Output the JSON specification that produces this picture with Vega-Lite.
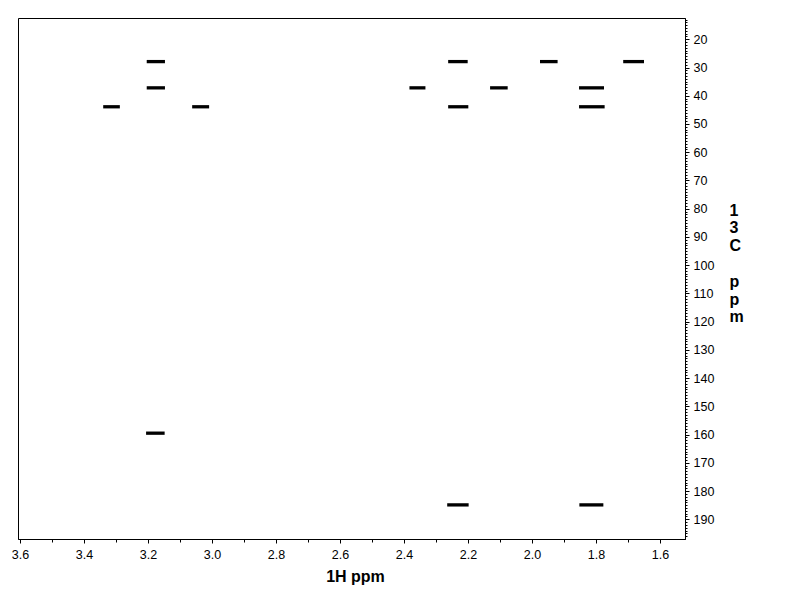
{
  "$schema": "https://vega.github.io/schema/vega-lite/v6.json",
  "width": 667,
  "height": 521,
  "autosize": {"type": "none"},
  "padding": {"left": 18, "top": 18, "right": 107, "bottom": 73},
  "background": "white",
  "config": {
    "view": {"stroke": "black", "strokeWidth": 1},
    "font": "Liberation Sans"
  },
  "data": {
    "values": [
      {"h1": 3.204, "h2": 3.147, "c": 27.9},
      {"h1": 3.204, "h2": 3.147, "c": 37.2},
      {"h1": 3.340, "h2": 3.288, "c": 43.9},
      {"h1": 3.062, "h2": 3.009, "c": 43.9},
      {"h1": 2.262, "h2": 2.201, "c": 27.9},
      {"h1": 1.975, "h2": 1.920, "c": 27.9},
      {"h1": 1.715, "h2": 1.650, "c": 27.9},
      {"h1": 2.383, "h2": 2.333, "c": 37.2},
      {"h1": 2.131, "h2": 2.076, "c": 37.2},
      {"h1": 1.853, "h2": 1.775, "c": 37.2},
      {"h1": 2.262, "h2": 2.199, "c": 43.9},
      {"h1": 1.853, "h2": 1.773, "c": 43.9},
      {"h1": 3.206, "h2": 3.148, "c": 159.5},
      {"h1": 2.265, "h2": 2.198, "c": 184.9},
      {"h1": 1.852, "h2": 1.777, "c": 184.9}
    ]
  },
  "mark": {"type": "rule", "color": "black", "strokeWidth": 3.3},
  "encoding": {
    "x": {
      "field": "h1",
      "type": "quantitative",
      "scale": {"domain": [3.60625, 1.52187], "nice": false, "zero": false},
      "axis": {
        "orient": "bottom",
        "values": [3.6, 3.5, 3.4, 3.3, 3.2, 3.1, 3.0, 2.9, 2.8, 2.7, 2.6, 2.5, 2.4, 2.3, 2.2, 2.1, 2.0, 1.9, 1.8, 1.7, 1.6],
        "format": ".1f",
        "labelExpr": "round(datum.value*10) % 2 == 0 ? datum.label : ''",
        "labelOverlap": false,
        "grid": false,
        "domainColor": "black",
        "tickColor": "black",
        "tickSize": {"condition": {"test": "round(datum.value*10) % 2 == 0", "value": 4}, "value": 3},
        "labelPadding": 5,
        "labelFont": "Liberation Sans",
        "labelFontSize": 12.5,
        "labelColor": "black",
        "labelBaseline": "top",
        "title": "1H ppm",
        "titleFont": "Liberation Sans",
        "titleFontSize": 16,
        "titleFontWeight": "bold",
        "titleColor": "black",
        "titleAlign": "center",
        "titleBaseline": "alphabetic",
        "titleX": 337,
        "titleY": 42.7
      }
    },
    "x2": {"field": "h2"},
    "y": {
      "field": "c",
      "type": "quantitative",
      "scale": {"domain": [12.46, 196.98], "nice": false, "zero": false, "reverse": true},
      "axis": {
        "orient": "right",
        "tickCount": 184,
        "labelExpr": "datum.value % 10 == 0 ? datum.value : ''",
        "labelOverlap": false,
        "grid": false,
        "domainColor": "black",
        "tickColor": "black",
        "tickSize": {"condition": {"test": "datum.value % 10 == 0", "value": 4}, "value": 2},
        "labelPadding": 4,
        "labelFont": "Liberation Sans",
        "labelFontSize": 12.5,
        "labelColor": "black",
        "labelAlign": "left",
        "labelBaseline": "middle",
        "title": ["1", "3", "C", "\u200b", "p", "p", "m"],
        "titleFont": "Liberation Sans",
        "titleFontSize": 16,
        "titleFontWeight": "bold",
        "titleColor": "black",
        "titleAngle": 0,
        "titleAlign": "left",
        "titleBaseline": "alphabetic",
        "titleLineHeight": 17.8,
        "titleX": 44,
        "titleY": 197
      }
    }
  }
}
